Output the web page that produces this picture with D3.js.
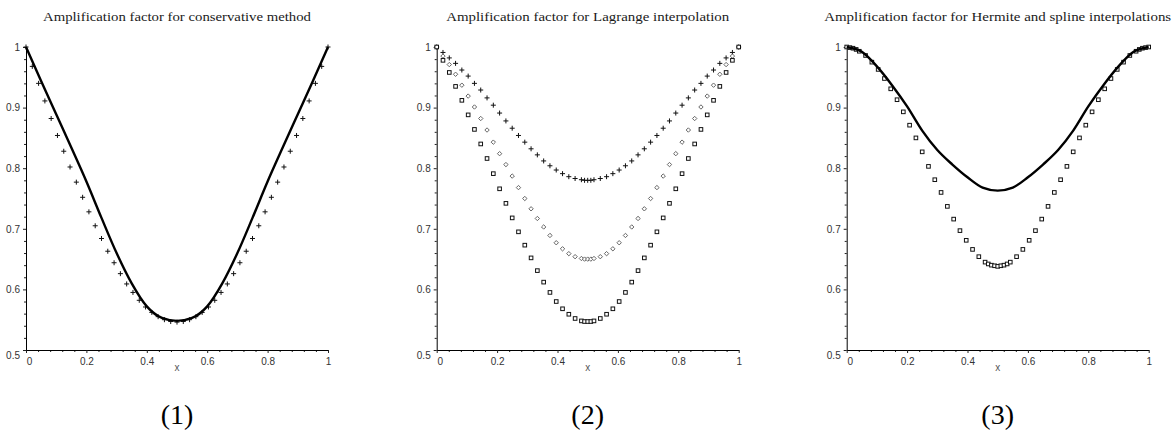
<!DOCTYPE html>
<html>
<head>
<meta charset="utf-8">
<script src="https://cdn.jsdelivr.net/npm/d3@7"></script>
<style>
  body { margin: 0; background: #fff; }
  svg { display: block; }
</style>
</head>
<body>
<svg id="chart" width="1175" height="432"></svg>
<script>
// ---- data -------------------------------------------------------------

// sample abscissae (wave number scaled to [0,1])
const xSamples = [0,0.0208,0.0417,0.0625,0.0833,0.1042,0.125,0.1458,0.1667,0.1875,0.2083,0.2292,0.25,0.2708,0.2917,0.3125,0.3333,0.3542,0.375,0.3958,0.4167,0.4375,0.4583,0.4792,0.5,0.5208,0.5417,0.5625,0.5833,0.6042,0.625,0.6458,0.6667,0.6875,0.7083,0.7292,0.75,0.7708,0.7917,0.8125,0.8333,0.8542,0.875,0.8958,0.9167,0.9375,0.9583,0.9792,1];
const xSamplesLagrange = [0,0.0208,0.0417,0.0625,0.0833,0.1042,0.125,0.1458,0.1667,0.1875,0.2083,0.2292,0.25,0.2708,0.2917,0.3125,0.3333,0.3542,0.375,0.3958,0.4167,0.4375,0.4583,0.4792,0.4896,0.5,0.5104,0.5208,0.5417,0.5625,0.5833,0.6042,0.625,0.6458,0.6667,0.6875,0.7083,0.7292,0.75,0.7708,0.7917,0.8125,0.8333,0.8542,0.875,0.8958,0.9167,0.9375,0.9583,0.9792,1];
const xSamplesSpline = [0,0.0104,0.0208,0.0313,0.0417,0.0625,0.0833,0.1042,0.125,0.1458,0.1667,0.1875,0.2083,0.2292,0.25,0.2708,0.2917,0.3125,0.3333,0.3542,0.375,0.3958,0.4167,0.4375,0.4583,0.4688,0.4792,0.4896,0.5,0.5104,0.5208,0.5313,0.5417,0.5625,0.5833,0.6042,0.625,0.6458,0.6667,0.6875,0.7083,0.7292,0.75,0.7708,0.7917,0.8125,0.8333,0.8542,0.875,0.8958,0.9167,0.9375,0.9583,0.9688,0.9792,0.9896,1];
const xCurve = [0,0.05,0.1,0.15,0.2,0.25,0.3,0.35,0.4,0.45,0.5,0.55,0.6,0.65,0.7,0.75,0.8,0.85,0.9,0.95,1];

// (1) conservative method
const conservativeCurve = [1,0.944,0.889,0.834,0.778,0.718,0.660,0.610,0.572,0.553,0.548,0.553,0.572,0.610,0.660,0.718,0.778,0.834,0.889,0.944,1];
const conservativeCross = [1.0,0.968,0.940,0.911,0.882,0.854,0.828,0.802,0.777,0.752,0.728,0.705,0.684,0.663,0.644,0.626,0.609,0.595,0.582,0.571,0.562,0.555,0.550,0.547,0.546,0.547,0.550,0.555,0.562,0.571,0.582,0.595,0.609,0.626,0.644,0.663,0.684,0.705,0.728,0.752,0.777,0.802,0.828,0.854,0.882,0.911,0.940,0.968,1.0];

// (2) Lagrange interpolation
const lagrangeCross = [1.0,0.991,0.982,0.973,0.962,0.952,0.940,0.929,0.916,0.904,0.891,0.878,0.866,0.854,0.843,0.832,0.822,0.812,0.804,0.797,0.791,0.786,0.783,0.781,0.780,0.780,0.780,0.781,0.783,0.786,0.791,0.797,0.804,0.812,0.822,0.832,0.843,0.854,0.866,0.878,0.891,0.904,0.916,0.929,0.940,0.952,0.962,0.973,0.982,0.991,1.0];
const lagrangeDiamond = [1.0,0.985,0.971,0.955,0.937,0.919,0.901,0.882,0.863,0.843,0.824,0.806,0.787,0.768,0.750,0.733,0.717,0.703,0.689,0.677,0.667,0.659,0.654,0.651,0.650,0.650,0.650,0.651,0.654,0.659,0.667,0.677,0.689,0.703,0.717,0.733,0.750,0.768,0.787,0.806,0.824,0.843,0.863,0.882,0.901,0.919,0.937,0.955,0.971,0.985,1.0];
const lagrangeSquare = [1.0,0.978,0.958,0.935,0.912,0.888,0.864,0.840,0.816,0.791,0.766,0.742,0.718,0.695,0.673,0.652,0.631,0.612,0.595,0.580,0.568,0.559,0.552,0.548,0.547,0.547,0.547,0.548,0.552,0.559,0.568,0.580,0.595,0.612,0.631,0.652,0.673,0.695,0.718,0.742,0.766,0.791,0.816,0.840,0.864,0.888,0.912,0.935,0.958,0.978,1.0];

// (3) Hermite (curve) and spline (squares) interpolation
const hermiteCurve = [1,0.992,0.968,0.937,0.902,0.862,0.830,0.806,0.785,0.768,0.763,0.768,0.785,0.806,0.830,0.862,0.902,0.937,0.968,0.992,1];
const splineSquare = [1.0,0.999,0.998,0.996,0.993,0.986,0.975,0.963,0.948,0.931,0.913,0.893,0.871,0.850,0.827,0.803,0.781,0.760,0.737,0.716,0.697,0.681,0.666,0.654,0.645,0.642,0.640,0.639,0.638,0.639,0.640,0.642,0.645,0.654,0.666,0.681,0.697,0.716,0.737,0.760,0.781,0.803,0.827,0.850,0.871,0.893,0.913,0.931,0.948,0.963,0.975,0.986,0.993,0.996,0.998,0.999,1.0];

// axes
const xTickValues = [0, 0.2, 0.4, 0.6, 0.8, 1];
const xTickLabels = ["0", "0.2", "0.4", "0.6", "0.8", "1"];
const xMinorTicks = [0.04,0.08,0.12,0.16,0.24,0.28,0.32,0.36,0.44,0.48,0.52,0.56,0.64,0.68,0.72,0.76,0.84,0.88,0.92,0.96];
const yTickValues = [0.5, 0.6, 0.7, 0.8, 0.9, 1];
const yTickLabels = ["0.5", "0.6", "0.7", "0.8", "0.9", "1"];
const yMinorTicks = [0.52,0.54,0.56,0.58,0.62,0.64,0.66,0.68,0.72,0.74,0.76,0.78,0.82,0.84,0.86,0.88,0.92,0.94,0.96,0.98];

const panelTitles = [
  "Amplification factor for conservative method",
  "Amplification factor for Lagrange interpolation",
  "Amplification factor for Hermite and spline interpolations"
];
const panelCaptions = ["(1)", "(2)", "(3)"];
const axisName = "x";

// ---- layout -----------------------------------------------------------
const svg = d3.select("#chart");
const plotLefts = [26, 436.7, 846.7];
const plotWidth = 302;
const plotTop = 47, plotBottom = 350;
const titleWidths = [268, 283, 347];

const markerPaths = {
  cross: "M-2.5,0H2.5M0,-2.5V2.5",
  diamond: "M0,-2.2L2.2,0L0,2.2L-2.2,0Z"
};

function drawPanel(i, content) {
  const left = plotLefts[i];
  const x = d3.scaleLinear().domain([0, 1]).range([left, left + plotWidth]);
  const y = d3.scaleLinear().domain([0.5, 1]).range([plotBottom, plotTop]);
  const g = svg.append("g");
  const cx = left + plotWidth / 2;

  // title
  g.append("text")
    .attr("x", cx).attr("y", 21)
    .attr("text-anchor", "middle")
    .attr("textLength", titleWidths[i])
    .attr("lengthAdjust", "spacingAndGlyphs")
    .style("font-family", "'Liberation Serif', 'Times New Roman', serif")
    .style("font-size", "12px")
    .style("fill", "#1a1a1a")
    .text(panelTitles[i]);

  // minor ticks
  g.append("g").attr("transform", `translate(0,${plotBottom})`)
    .call(d3.axisBottom(x).tickValues(xMinorTicks).tickSize(2).tickSizeOuter(0).tickFormat(""))
    .call(a => a.select(".domain").remove());
  g.append("g").attr("transform", `translate(${left},0)`)
    .call(d3.axisLeft(y).tickValues(yMinorTicks).tickSize(2).tickSizeOuter(0).tickFormat(""))
    .call(a => a.select(".domain").remove());

  // major axes
  const xa = g.append("g").attr("transform", `translate(0,${plotBottom})`)
    .call(d3.axisBottom(x).tickValues(xTickValues).tickSize(3).tickSizeOuter(0).tickPadding(4.5)
      .tickFormat((d, k) => xTickLabels[k]));
  const ya = g.append("g").attr("transform", `translate(${left},0)`)
    .call(d3.axisLeft(y).tickValues(yTickValues).tickSize(3).tickSizeOuter(0).tickPadding(3)
      .tickFormat((d, k) => yTickLabels[k]));

  [xa, ya].forEach(a => {
    a.selectAll("text")
      .style("font-family", "'Liberation Sans', Arial, sans-serif")
      .style("font-size", "10px")
      .style("fill", "#333");
  });
  g.selectAll(".tick line").attr("stroke", "#222");
  g.selectAll(".domain").attr("stroke", "#000");
  xa.selectAll(".tick").filter(d => d === 0).select("text").attr("dx", 3);
  ya.selectAll(".tick").filter(d => d === 0.5).select("text").attr("dy", "0.85em");

  // axis name
  g.append("text")
    .attr("x", cx).attr("y", 371)
    .attr("text-anchor", "middle")
    .style("font-family", "'Liberation Sans', Arial, sans-serif")
    .style("font-size", "10px")
    .style("fill", "#555")
    .text(axisName);

  // caption
  g.append("text")
    .attr("x", cx).attr("y", 424)
    .attr("text-anchor", "middle")
    .style("font-family", "'Liberation Serif', 'Times New Roman', serif")
    .style("font-size", "28px")
    .style("fill", "#000")
    .text(panelCaptions[i]);

  const plot = g.append("g");
  content(plot, x, y);
}

function curve(g, x, y, xs, ys) {
  g.append("path")
    .datum(xs.map((v, k) => [v, ys[k]]))
    .attr("fill", "none")
    .attr("stroke", "#000")
    .attr("stroke-width", 2.4)
    .attr("stroke-linejoin", "round")
    .attr("d", d3.line().x(d => x(d[0])).y(d => y(d[1])).curve(d3.curveMonotoneX));
}

function markers(g, x, y, xs, ys, kind) {
  const pts = xs.map((v, k) => [v, ys[k]]);
  if (kind === "square") {
    g.selectAll(null).data(pts).join("rect")
      .attr("x", d => x(d[0]) - 1.8).attr("y", d => y(d[1]) - 1.8)
      .attr("width", 3.6).attr("height", 3.6)
      .attr("fill", "#fff").attr("stroke", "#111").attr("stroke-width", 1);
  } else {
    g.selectAll(null).data(pts).join("path")
      .attr("transform", d => `translate(${x(d[0])},${y(d[1])})`)
      .attr("d", markerPaths[kind])
      .attr("fill", kind === "diamond" ? "#fff" : "none")
      .attr("stroke", kind === "diamond" ? "#666" : "#111")
      .attr("stroke-width", 1);
  }
}

drawPanel(0, (g, x, y) => {
  markers(g, x, y, xSamples, conservativeCross, "cross");
  curve(g, x, y, xCurve, conservativeCurve);
});

drawPanel(1, (g, x, y) => {
  markers(g, x, y, xSamplesLagrange, lagrangeCross, "cross");
  markers(g, x, y, xSamplesLagrange, lagrangeDiamond, "diamond");
  markers(g, x, y, xSamplesLagrange, lagrangeSquare, "square");
});

drawPanel(2, (g, x, y) => {
  markers(g, x, y, xSamplesSpline, splineSquare, "square");
  curve(g, x, y, xCurve, hermiteCurve);
});
</script>
</body>
</html>
